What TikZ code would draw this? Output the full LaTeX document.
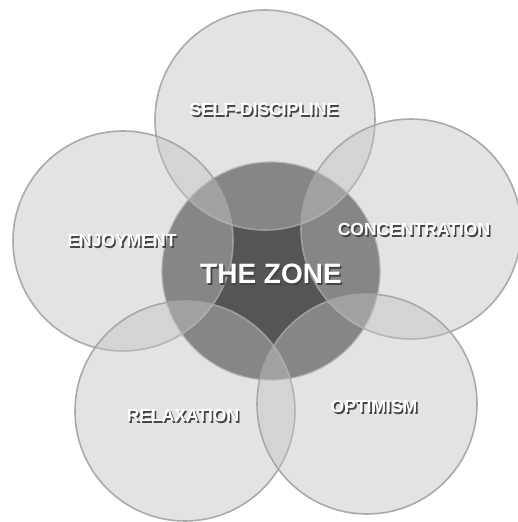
\documentclass[tikz,border=0pt]{standalone}
\usepackage{fontspec}
\setmainfont{Liberation Sans}
\definecolor{zonedark}{HTML}{555555}
\definecolor{ringfill}{HTML}{C2C2C2}
\definecolor{ringline}{HTML}{A3A3A3}
\definecolor{shadowc}{HTML}{444444}
\tikzset{
  ring/.style={circle, draw=ringline, line width=1.6pt, fill=ringfill, fill opacity=0.45, draw opacity=0.9, minimum size=220pt, inner sep=0pt},
  core/.style={circle, draw=ringline, line width=1.2pt, fill=zonedark, minimum size=218pt, inner sep=0pt},
  lbl/.style={text=white, font=\bfseries\fontsize{17.5}{20}\selectfont, inner sep=0pt},
  biglbl/.style={text=white, font=\bfseries\fontsize{28}{32}\selectfont, inner sep=0pt}
}
\newcommand{\shad}[1]{\makebox[0pt][l]{\hspace{1.6pt}\raisebox{-2pt}{\color{shadowc}#1}}#1}
\begin{document}
\begin{tikzpicture}[x=1pt,y=-1pt]
\useasboundingbox (0,0) rectangle (517,522);
\fill[white] (0,0) rectangle (517,522);
% central zone
\node[core] (zone) at (271,271) {};
% outer rings
\node[ring] (sd) at (265,120) {};
\node[ring] (enj) at (123,241) {};
\node[ring] (con) at (411,229) {};
\node[ring] (rel) at (185,411) {};
\node[ring] (opt) at (367,404) {};
% labels
\node[lbl] (sdl) at (264,110) {\shad{SELF-DISCIPLINE}};
\node[lbl] (enjl) at (122,241) {\shad{ENJOYMENT}};
\node[lbl] (conl) at (414,230) {\shad{CONCENTRATION}};
\node[lbl] (rell) at (183,416) {\shad{RELAXATION}};
\node[lbl] (optl) at (374,407) {\shad{OPTIMISM}};
\node[biglbl] (zonel) at (271,275) {\shad{THE ZONE}};
\end{tikzpicture}
\end{document}
